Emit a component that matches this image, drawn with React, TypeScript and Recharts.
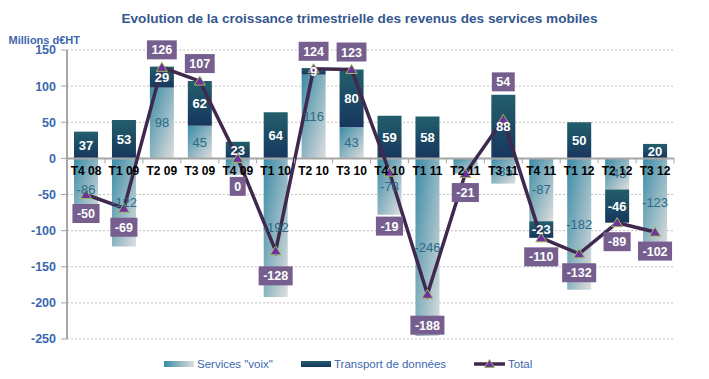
import React from "react";
import {
  ComposedChart,
  Bar,
  Line,
  XAxis,
  YAxis,
  CartesianGrid,
  ReferenceLine,
  LabelList,
} from "recharts";

const categories = [
  "T4 08", "T1 09", "T2 09", "T3 09", "T4 09", "T1 10", "T2 10", "T3 10",
  "T4 10", "T1 11", "T2 11", "T3 11", "T4 11", "T1 12", "T2 12", "T3 12",
];
const voix = [-86, -122, 98, 45, -23, -192, 116, 43, -78, -246, -21, -35, -87, -182, -43, -123];
const donnees = [37, 53, 29, 62, 23, 64, 9, 80, 59, 58, 0, 88, -23, 50, -46, 20];
const total = [-50, -69, 126, 107, 0, -128, 124, 123, -19, -188, -21, 54, -110, -132, -89, -102];
const yTicks = [-250, -200, -150, -100, -50, 0, 50, 100, 150];

const hiddenVoixLabels = ["T4 09", "T2 11"];
const totalLabelNudge: Record<string, number> = {
  "T4 09": 9,
  "T1 10": 6,
  "T4 10": 35,
  "T1 11": 12,
  "T3 11": -20,
};

const W = 693;
const H = 363;
const M = { top: 42, right: 27, bottom: 32, left: 0 };
const YW = 59;
const PLOT_W = W - M.left - M.right - YW;
const BAND = PLOT_W / categories.length;
const FONT = "'Liberation Sans', Arial, Helvetica, sans-serif";
const BLUE = "#3B68AE";

const data = categories.map((cat, i) => ({
  cat,
  voix: voix[i],
  donnees: donnees[i],
  total: total[i],
  base: 0,
  voixLabel: hiddenVoixLabels.includes(cat) ? null : voix[i],
  donneesLabel: donnees[i] === 0 ? null : donnees[i],
}));

const VoixLabel = (p: any) => {
  const { x, y, width, height, value } = p;
  if (value == null || x == null) return null;
  return (
    <text
      x={x + width / 2}
      y={y + height / 2 + 4.5}
      textAnchor="middle"
      fill="#2A6A86"
      fontSize={13}
      fontFamily={FONT}
    >
      {value}
    </text>
  );
};

const DataLabel = (p: any) => {
  const { x, y, width, height, value } = p;
  if (value == null || x == null) return null;
  return (
    <text
      x={x + width / 2}
      y={y + height / 2 + 4.5}
      textAnchor="middle"
      fill="#FFFFFF"
      fontSize={13}
      fontWeight="bold"
      fontFamily={FONT}
    >
      {value}
    </text>
  );
};

const CatLabel = (p: any) => {
  const { x, y, value } = p;
  if (x == null) return null;
  const i = Math.round((x - M.left - YW) / BAND - 0.5);
  return (
    <g>
      <line x1={x - BAND / 2} x2={x - BAND / 2} y1={y} y2={y + 5} stroke="#A6A6A6" strokeWidth={1} />
      {i === categories.length - 1 && (
        <line x1={x + BAND / 2} x2={x + BAND / 2} y1={y} y2={y + 5} stroke="#A6A6A6" strokeWidth={1} />
      )}
      <text
        x={x}
        y={y + 17}
        textAnchor="middle"
        fill="#000000"
        fontSize={12}
        fontWeight="bold"
        fontFamily={FONT}
      >
        {value}
      </text>
    </g>
  );
};

const TotalLabel = (p: any) => {
  const { x, y, value } = p;
  if (x == null || value == null) return null;
  const i = Math.round((x - M.left - YW) / BAND - 0.5);
  const nudge = totalLabelNudge[categories[i]] || 0;
  const s = String(value);
  let tw = 0;
  for (const ch of s) tw += ch === "-" ? 4.2 : 6.95;
  const w = tw + 9;
  const cy = value > 0 ? y - 17.5 + nudge : y + 19 + nudge;
  return (
    <g>
      <rect x={x - w / 2} y={cy - 9.5} width={w} height={19} fill="#765F8E" />
      <text
        x={x}
        y={cy + 4.5}
        textAnchor="middle"
        fill="#FFFFFF"
        fontSize={12.5}
        fontWeight="bold"
        fontFamily={FONT}
      >
        {s}
      </text>
    </g>
  );
};

const TriDot = (p: any) => {
  const { cx, cy, index } = p;
  if (cx == null || cy == null) return <g key={index} />;
  return (
    <polygon
      key={index}
      points={`${cx},${cy - 5} ${cx + 5.5},${cy + 4} ${cx - 5.5},${cy + 4}`}
      fill="#7030A0"
      stroke="#9BBB59"
      strokeWidth={1}
    />
  );
};

export default function App() {
  return (
    <div style={{ position: "relative", width: W, height: H, fontFamily: FONT }}>
      <ComposedChart width={W} height={H} data={data} margin={M} stackOffset="sign" barCategoryGap="18.5%">
        <defs>
          <linearGradient id="gVoix" x1="0" y1="0" x2="1" y2="1">
            <stop offset="0%" stopColor="#3A8BA5" />
            <stop offset="100%" stopColor="#DEDEDE" />
          </linearGradient>
          <linearGradient id="gData" x1="0" y1="0" x2="0" y2="1">
            <stop offset="0%" stopColor="#225F6C" />
            <stop offset="100%" stopColor="#17365E" />
          </linearGradient>
        </defs>
        <CartesianGrid vertical={false} stroke="#BFBFBF" strokeDasharray="2 2" />
        <XAxis dataKey="cat" hide />
        <YAxis
          width={YW}
          domain={[-250, 150]}
          ticks={yTicks}
          interval={0}
          tickSize={6}
          tickMargin={5}
          axisLine={{ stroke: "#A6A6A6", strokeWidth: 2 }}
          tickLine={{ stroke: "#A6A6A6" }}
          tick={{ fill: BLUE, fontSize: 12.5, fontWeight: "bold", fontFamily: FONT }}
        />
        <Bar dataKey="voix" stackId="s" fill="url(#gVoix)" isAnimationActive={false}>
          <LabelList dataKey="voixLabel" content={VoixLabel} />
        </Bar>
        <Bar dataKey="donnees" stackId="s" fill="url(#gData)" isAnimationActive={false}>
          <LabelList dataKey="donneesLabel" content={DataLabel} />
        </Bar>
        <ReferenceLine y={0} stroke="#A6A6A6" strokeWidth={2} />
        <Line
          dataKey="base"
          stroke="none"
          dot={false}
          activeDot={false}
          legendType="none"
          isAnimationActive={false}
        >
          <LabelList dataKey="cat" content={CatLabel} />
        </Line>
        <Line
          dataKey="total"
          stroke="#40294E"
          strokeWidth={3.5}
          dot={TriDot}
          activeDot={false}
          isAnimationActive={false}
        >
          <LabelList dataKey="total" content={TotalLabel} />
        </Line>
      </ComposedChart>
      <svg
        width={W}
        height={H}
        style={{ position: "absolute", left: 0, top: 0, pointerEvents: "none" }}
      >
        <defs>
          <linearGradient id="lgVoix" x1="0" y1="0" x2="1" y2="0">
            <stop offset="0%" stopColor="#3A8BA5" />
            <stop offset="100%" stopColor="#DEDEDE" />
          </linearGradient>
          <linearGradient id="lgData" x1="0" y1="0" x2="0" y2="1">
            <stop offset="0%" stopColor="#225F6C" />
            <stop offset="100%" stopColor="#17365E" />
          </linearGradient>
        </defs>
        <text x={351.5} y={15} textAnchor="middle" fill="#35578E" fontSize={13.6} fontWeight="bold" fontFamily={FONT}>
          Evolution de la croissance trimestrielle des revenus des services mobiles
        </text>
        <text x={0.5} y={35.5} fill={BLUE} fontSize={11} fontWeight="bold" fontFamily={FONT}>
          Millions d€HT
        </text>
        <rect x={156} y={353} width={30} height={6} fill="url(#lgVoix)" />
        <text x={189} y={359.5} fill={BLUE} fontSize={11.5} fontFamily={FONT}>
          Services "voix"
        </text>
        <rect x={293} y={353} width={30} height={6} fill="url(#lgData)" />
        <text x={326} y={359.5} fill={BLUE} fontSize={11.5} fontFamily={FONT}>
          Transport de données
        </text>
        <line x1={466} x2={497} y1={356} y2={356} stroke="#40294E" strokeWidth={3.5} />
        <polygon points="481.5,351.5 486.5,359.5 476.5,359.5" fill="#7030A0" stroke="#9BBB59" strokeWidth={1} />
        <text x={500} y={359.5} fill={BLUE} fontSize={11.5} fontFamily={FONT}>
          Total
        </text>
      </svg>
    </div>
  );
}
